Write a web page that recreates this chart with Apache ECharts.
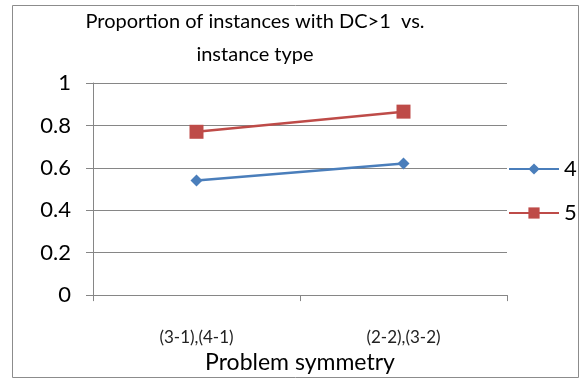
<!DOCTYPE html>
<html>
<head>
<meta charset="utf-8">
<script src="https://cdn.jsdelivr.net/npm/echarts@6/dist/echarts.min.js"></script>
<style>
html,body{margin:0;padding:0;background:#fff;}
#chart{width:588px;height:379px;}
</style>
</head>
<body>
<div id="chart"></div>
<script>
// data
var categories = ['(3-1),(4-1)', '(2-2),(3-2)'];
var series4 = [0.54, 0.62];
var series5 = [0.77, 0.865];
var yTicks = [0, 0.2, 0.4, 0.6, 0.8, 1];

var font = 'Lato, "Open Sans", sans-serif';
var chart = echarts.init(document.getElementById('chart'));

var option = {
    animation: false,
    textStyle: {fontFamily: font},
    title: {
        text: 'Proportion of instances with DC>1  vs.\ninstance type',
        left: 250,
        textAlign: 'center',
        top: 0,
        textStyle: {fontSize: 20, fontWeight: 'normal', color: '#000', lineHeight: 33, fontFamily: font}
    },
    graphic: [{
        type: 'rect',
        shape: {x: 12.5, y: 5.5, width: 566, height: 372},
        style: {fill: 'none', stroke: '#8c8c8c', lineWidth: 1}
    }],
    legend: {
        orient: 'vertical',
        left: 503,
        top: 153,
        itemWidth: 50,
        itemHeight: 14,
        itemGap: 22,
        textStyle: {fontSize: 22, color: '#000', fontFamily: font},
        data: ['4', '5']
    },
    grid: {left: 93, right: 81, top: 83, bottom: 80, containLabel: false},
    xAxis: {
        type: 'category',
        data: categories,
        boundaryGap: true,
        axisLine: {lineStyle: {color: '#868686'}},
        axisTick: {show: true, length: 6, lineStyle: {color: '#868686'}},
        axisLabel: {fontSize: 17, color: '#222', margin: 34, fontFamily: font},
        name: 'Problem symmetry',
        nameLocation: 'middle',
        nameGap: 48,
        nameTextStyle: {fontSize: 23, color: '#000', fontFamily: font}
    },
    yAxis: {
        type: 'value',
        min: yTicks[0],
        max: yTicks[yTicks.length - 1],
        interval: 0.2,
        axisLine: {show: true, lineStyle: {color: '#868686'}},
        axisTick: {show: true, length: 7, lineStyle: {color: '#868686'}},
        splitLine: {show: true, lineStyle: {color: '#868686'}},
        axisLabel: {fontSize: 22, color: '#000', margin: 22, fontFamily: font,
            formatter: function (v) { return String(Math.round(v * 10) / 10); }}
    },
    series: [
        {
            name: '4',
            type: 'line',
            data: series4,
            symbol: 'diamond',
            symbolSize: 12,
            lineStyle: {color: '#4a7ebb', width: 2.5},
            itemStyle: {color: '#4a7ebb'}
        },
        {
            name: '5',
            type: 'line',
            data: series5,
            symbol: 'rect',
            symbolSize: 14,
            lineStyle: {color: '#be4b48', width: 2.5},
            itemStyle: {color: '#be4b48'}
        }
    ]
};
chart.setOption(option);
</script>
</body>
</html>
